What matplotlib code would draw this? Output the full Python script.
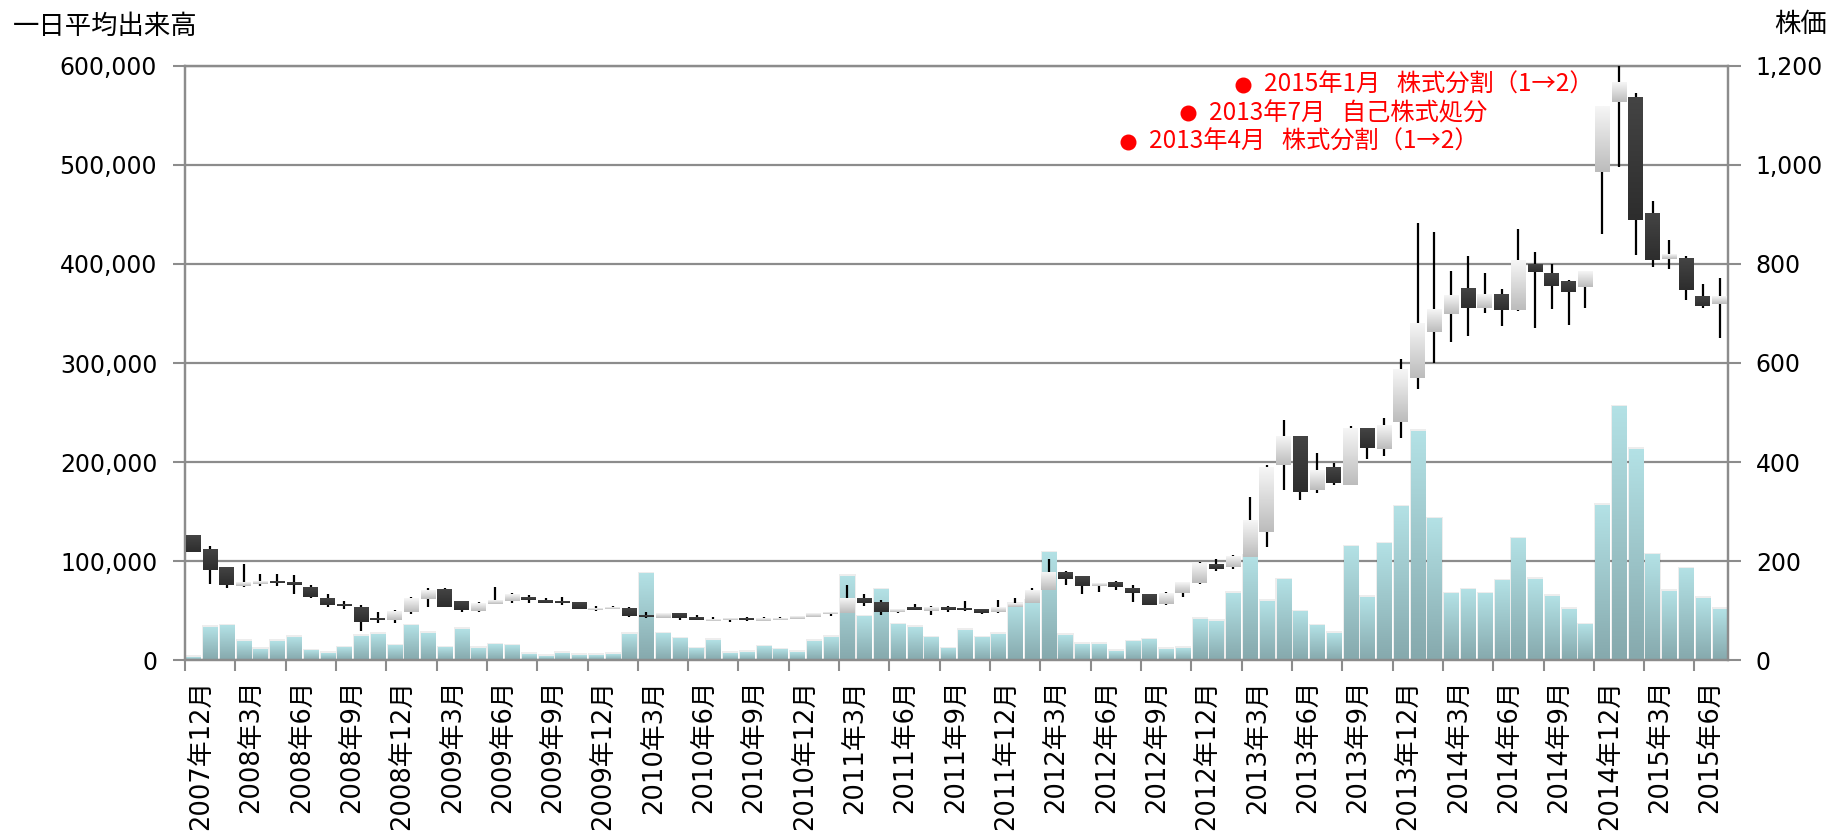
import numpy as np
import matplotlib
matplotlib.use("Agg")
import matplotlib.pyplot as plt
from matplotlib.colors import LinearSegmentedColormap
from matplotlib.patches import Rectangle
from matplotlib.lines import Line2D

plt.rcParams['font.family'] = ['DejaVu Sans', 'Noto Sans CJK JP']

# ---------------- data ----------------
months = [f"{2007 + (11 + k) // 12}年{(11 + k) % 12 + 1}月" for k in range(92)]

price_open = [253, 223, 188, 150, 154, 159, 156, 148, 126, 111, 108, 83, 81, 98, 124, 144, 120, 100, 114, 120, 128, 122, 120, 118,
              102, 104, 106, 92, 86, 96, 87, 80, 83, 83, 80, 81, 83, 88, 94, 96, 126, 118, 98, 108, 100, 108, 106, 104,
              98, 108, 116, 142, 178, 168, 149, 157, 144, 134, 114, 135, 156, 194, 189, 208, 258, 394, 451, 344, 389, 354,
              468, 426, 480, 570, 663, 699, 751, 712, 737, 707, 800, 781, 766, 754, 986, 1127, 1137, 901, 809, 811, 735, 719]
price_close = [219, 182, 152, 157, 159, 157, 151, 128, 112, 110, 78, 81, 99, 126, 142, 108, 102, 116, 121, 133, 122, 116, 116, 104,
               106, 108, 90, 88, 96, 86, 82, 84, 84, 81, 85, 85, 89, 96, 98, 126, 116, 98, 103, 102, 108, 102, 102, 96,
               108, 116, 142, 178, 165, 149, 155, 147, 135, 112, 135, 156, 196, 185, 210, 281, 389, 451, 340, 383, 357, 468,
               429, 474, 585, 679, 709, 737, 712, 739, 706, 806, 784, 756, 744, 786, 1119, 1166, 889, 808, 818, 747, 715, 734]
price_high = [253, 231, 188, 194, 174, 174, 172, 151, 133, 120, 112, 98, 102, 128, 145, 145, 120, 118, 148, 136, 132, 126, 127, 118,
              110, 110, 108, 97, 96, 96, 91, 88, 85, 87, 87, 88, 89, 96, 98, 151, 133, 122, 104, 113, 109, 110, 120, 104,
              122, 126, 145, 204, 181, 170, 157, 160, 151, 134, 137, 157, 198, 204, 213, 330, 395, 485, 451, 418, 398, 472,
              469, 490, 609, 882, 865, 786, 815, 781, 749, 870, 825, 799, 767, 786, 1119, 1200, 1145, 926, 848, 816, 759, 771]
price_low = [219, 154, 145, 147, 149, 149, 134, 125, 108, 103, 60, 76, 75, 94, 108, 108, 98, 98, 113, 116, 116, 115, 112, 104,
             100, 104, 88, 86, 86, 81, 81, 79, 78, 79, 79, 81, 83, 88, 90, 95, 110, 92, 96, 101, 92, 98, 100, 94,
             96, 107, 116, 141, 151, 133, 138, 141, 118, 112, 112, 128, 153, 181, 185, 208, 229, 344, 324, 337, 354, 354,
             406, 413, 448, 548, 600, 643, 655, 700, 674, 704, 671, 708, 677, 710, 860, 996, 817, 794, 789, 727, 712, 651]
volume = [3000, 33000, 34600, 18800, 10700, 18800, 23200, 9400, 6400, 12400, 24200, 25800, 14400, 34600, 26800, 12400,
          30600, 11700, 15400, 14400, 5400, 3700, 6400, 4400,
          4400, 5400, 25800, 87100, 26500, 21500, 11400, 19500, 6400, 7400, 13400, 10100, 7400, 18800, 23200, 84400,
          43700, 70900, 35600, 32900, 22500, 11400, 29600, 22500,
          25800, 56000, 59000, 108000, 24800, 16100, 16100, 8400, 18200, 20500, 10700, 11700, 41000, 39300, 67600, 104600,
          59500, 81000, 48700, 34600, 26800, 114300, 63200, 117300, 154400, 230400, 142600, 66600, 70900, 66600, 80000,
          122400, 81700, 63900, 51400, 35600, 156000, 255300, 212900, 106200, 69200, 92100, 61900, 51400]

vol_ticks = [0, 100000, 200000, 300000, 400000, 500000, 600000]
price_ticks = [0, 200, 400, 600, 800, 1000, 1200]

notes = ["2015年1月   株式分割（1→2）", "2013年7月   自己株式処分", "2013年4月   株式分割（1→2）"]

# ---------------- styling ----------------
GRID = '#8c8c8c'
bar_cmap = LinearSegmentedColormap.from_list('bar', ['#b3e1e5', '#86a9ad'])
up_cmap = LinearSegmentedColormap.from_list('up', ['#f6f6f6', '#bcbcbc'])
dn_cmap = LinearSegmentedColormap.from_list('dn', ['#444444', '#2d2d2d'])
grad = np.linspace(0, 1, 64).reshape(-1, 1)

W, H = 1832, 834
fig = plt.figure(figsize=(W / 100, H / 100), dpi=100)
ax = fig.add_axes([185 / W, 1 - 660.3 / H, (1728 - 185) / W, (660.3 - 65.7) / H])
ax2 = ax.twinx()

n = len(months)
x = np.arange(n)

# volume bars with gradient and faint shadow
bw = 0.84
for xi, v in zip(x, volume):
    ax.add_patch(Rectangle((xi - bw / 2 - 0.06, 0), bw + 0.12, v + 2500, facecolor='#000000',
                           alpha=0.07, edgecolor='none', zorder=1.8))
    ax.imshow(grad, extent=(xi - bw / 2, xi + bw / 2, 0, v), cmap=bar_cmap, aspect='auto',
              interpolation='bilinear', origin='upper', zorder=2)

# candlesticks
cw = 0.89
ax2.vlines(x, price_low, price_high, colors='black', lw=1.6, zorder=3)
for xi, o, c in zip(x, price_open, price_close):
    lo, hi = min(o, c), max(o, c)
    if hi - lo < 3:
        mid = (hi + lo) / 2
        lo, hi = mid - 1.5, mid + 1.5
    cmap = up_cmap if c >= o else dn_cmap
    ax2.imshow(grad, extent=(xi - cw / 2, xi + cw / 2, lo, hi), cmap=cmap, aspect='auto',
               interpolation='bilinear', origin='upper', zorder=4)

# axes limits
ax.set_xlim(-0.5, n - 0.5)
ax2.set_xlim(-0.5, n - 0.5)
ax.set_ylim(0, 600000)
ax2.set_ylim(0, 1200)

ax.set_yticks(vol_ticks)
ax.set_yticklabels([f"{v:,}" for v in vol_ticks])
ax2.set_yticks(price_ticks)
ax2.set_yticklabels([f"{v:,}" for v in price_ticks])

ax.yaxis.grid(True, color=GRID, lw=1.6)
ax.set_axisbelow(True)

# x ticks: marks at boundaries every 3 months, labels at category centres
ax.set_xticks(np.arange(-0.5, n, 3))
ax.set_xticklabels([])
lab_idx = np.arange(0, n, 3)
ax.set_xticks(lab_idx + 0.45, minor=True)
ax.set_xticklabels([months[i] for i in lab_idx], minor=True, rotation=90, fontsize=18.5)
ax.tick_params(axis='x', which='major', length=8, width=1.5, color=GRID)
ax.tick_params(axis='x', which='minor', length=0, pad=14)

ax.tick_params(axis='y', length=9, width=1.5, color=GRID, labelsize=17, pad=11)
ax2.tick_params(axis='y', length=9, width=1.5, color=GRID, labelsize=17, pad=11)

for a in (ax, ax2):
    for s in a.spines.values():
        s.set_color(GRID)
        s.set_linewidth(1.6)

# axis titles
fig.text(13 / W, 1 - 26 / H, "一日平均出来高", fontsize=19, family=['Noto Sans CJK JP'],
         ha='left', va='center')
fig.text(1827 / W, 1 - 25 / H, "株価", fontsize=19, family=['Noto Sans CJK JP'],
         ha='right', va='center')

# red notes
note_bullet_x = [1243, 1188, 1128]
note_y = [85, 113, 142]
note_text_x = [1264, 1209, 1149]
for t, bx, ty, tx in zip(notes, note_bullet_x, note_y, note_text_x):
    fig.add_artist(Line2D([bx / W], [1 - ty / H], marker='o', ms=10.5, color='#ff0000',
                          transform=fig.transFigure))
    fig.text(tx / W, 1 - ty / H, t, fontsize=17.5, color='#ff0000',
             family=['Noto Sans CJK JP'], ha='left', va='center')

fig.savefig('out.png', dpi=100)
